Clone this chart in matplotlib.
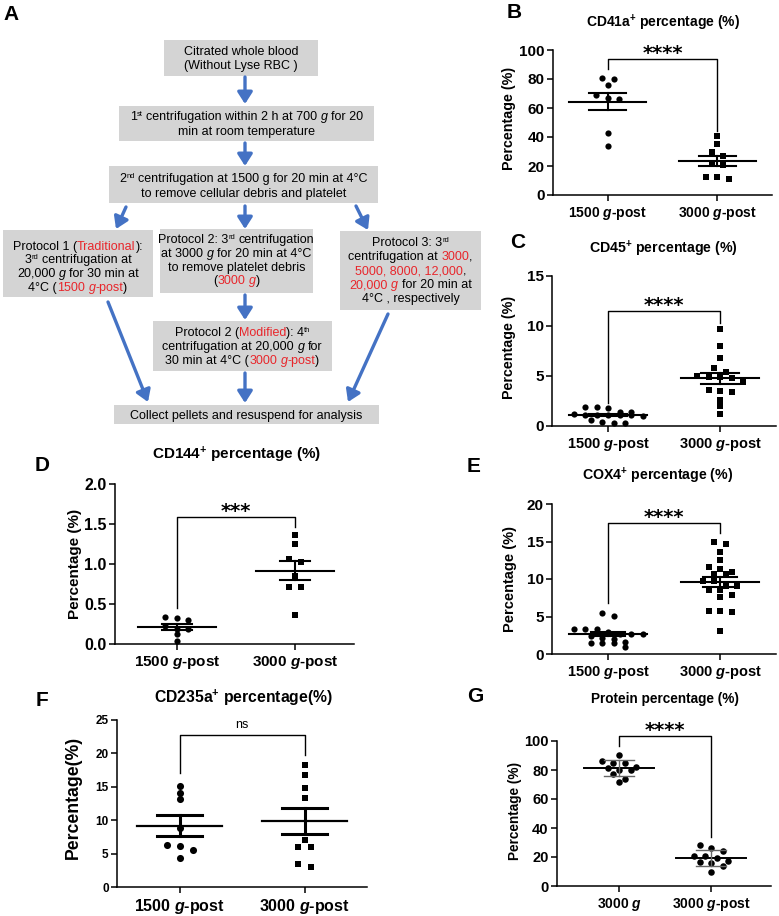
import numpy as np
import matplotlib
matplotlib.use('Agg')
import matplotlib.pyplot as plt
from matplotlib.patches import Rectangle

plt.rcParams['font.family'] = ['Liberation Sans', 'DejaVu Sans']
plt.rcParams['font.weight'] = 'bold'
plt.rcParams['mathtext.fontset'] = 'custom'
plt.rcParams['mathtext.rm'] = 'Liberation Sans:bold'
plt.rcParams['mathtext.it'] = 'Liberation Sans:bold:italic'
plt.rcParams['mathtext.bf'] = 'Liberation Sans:bold'

# ---- data (percent) ----
cd41a_1500 = [80, 81, 76, 67, 69, 66, 43, 33.5]
cd41a_3000 = [41, 35, 29.6, 26.6, 21.3, 20.4, 11, 12.4, 12.4]
cd45_1500 = [1.9, 1.0, 1.4, 1.1, 0.3, 1.4, 1.2, 0.6, 1.8, 1.1, 0.3, 1.1, 0.4, 1.1, 1.9, 1.1]
cd45_3000 = [9.7, 8.0, 6.8, 5.8, 5.4, 5.0, 4.9, 4.9, 4.8, 4.4, 3.4, 3.6, 3.5, 2.6, 2.0, 1.2]
cd144_1500 = [0.30, 0.34, 0.32, 0.19, 0.22, 0.19, 0.12, 0.04]
cd144_3000 = [1.36, 1.25, 1.03, 1.06, 0.85, 0.71, 0.71, 0.36]
cox4_1500 = [5.1, 5.5, 2.7, 3.3, 2.7, 3.3, 2.7, 3.0, 3.4, 2.2, 1.5, 1.6, 1.5, 1.5, 1.0, 2.0, 2.4]
cox4_3000 = [15.0, 14.7, 13.6, 12.5, 11.6, 11.3, 10.7, 10.9, 10.7, 9.8, 9.8, 9.1, 8.5, 8.5,
             9.1, 7.6, 7.9, 5.8, 5.6, 5.7, 3.05]
cd235a_1500 = [15.1, 14.1, 13.2, 8.85, 6.35, 6.1, 5.5, 4.35]
cd235a_3000 = [18.25, 16.7, 14.85, 13.25, 7.1, 5.95, 5.95, 3.5, 3.0]
protein_3000 = [90.5, 85, 85, 86, 80, 80, 81.5, 82, 77, 72, 74]
protein_3000_post = [28, 26, 24, 21, 21, 17.5, 19, 16.5, 16, 14, 10]

cats = ['1500 $g$-post', '3000 $g$-post']
cats_g = ['3000 $g$', '3000 $g$-post']

W, H = 779, 916
RED = '#e8262b'
BLUE = '#4472c4'
GREY = '#d4d4d4'

fig = plt.figure(figsize=(W / 100, H / 100), dpi=100)


def ftext(x, y, s, **kw):
    fig.text(x / W, 1 - y / H, s, **kw)


# ---------------- panel A: flowchart ----------------
fa = fig.add_axes([0, 0, 1, 1])
fa.set_xlim(0, W)
fa.set_ylim(H, 0)
fa.axis('off')
rend = fig.canvas.get_renderer()


def adv(s, size, style):
    # advance width of a string, spaces included
    t = fa.text(0, 0, 'X' + s + 'X', fontsize=size, style=style, fontweight='normal')
    u = fa.text(0, 0, 'XX', fontsize=size, style=style, fontweight='normal')
    w = t.get_window_extent(rend).width - u.get_window_extent(rend).width
    t.remove()
    u.remove()
    return w


def rich_line(cx, y, segs, fs=9):
    parts = []
    for s, k in segs:
        size = fs * 0.6 if 's' in k else fs
        style = 'italic' if 'i' in k else 'normal'
        parts.append((s, k, size, style, adv(s, size, style)))
    x = cx - sum(p[4] for p in parts) / 2
    for s, k, size, style, w in parts:
        lead = s[:len(s) - len(s.lstrip())]
        x0 = x + (adv(lead, size, style) if lead else 0)
        fa.text(x0, y - (4 if 's' in k else 0), s.strip(), fontsize=size, style=style,
                fontweight='normal', color=RED if 'r' in k else 'black',
                ha='left', va='baseline')
        x += w


boxes = [
    ((164, 40, 318, 76), [51, 65],
     [[('Citrated whole blood', '')], [('(Without Lyse RBC )', '')]]),
    ((119, 106, 374, 141), [116, 131],
     [[('1', ''), ('st', 's'), (' centrifugation within 2 h at 700 ', ''), ('g', 'i'), (' for 20', '')],
      [('min at room temperature', '')]]),
    ((109, 166, 378, 203), [178, 193],
     [[('2', ''), ('nd', 's'), (' centrifugation at 1500 g for 20 min at 4°C', '')],
      [('to remove cellular debris and platelet', '')]]),
    ((3, 230, 153, 297), [246, 259, 273, 287],
     [[('Protocol 1 (', ''), ('Traditional', 'r'), ('):', '')],
      [('3', ''), ('rd', 's'), (' centrifugation at', '')],
      [('20,000 ', ''), ('g', 'i'), (' for 30 min at', '')],
      [('4°C (', ''), ('1500 ', 'r'), ('g', 'ri'), ('-post', 'r'), (')', '')]]),
    ((160, 229, 313, 293), [239, 253, 267, 280],
     [[('Protocol 2: 3', ''), ('rd', 's'), (' centrifugation', '')],
      [('at 3000 ', ''), ('g', 'i'), (' for 20 min at 4°C', '')],
      [('to remove platelet debris', '')],
      [('(', ''), ('3000 ', 'r'), ('g', 'ri'), (')', '')]]),
    ((340, 231, 481, 310), [242, 256, 270, 284, 298],
     [[('Protocol 3: 3', ''), ('rd', 's')],
      [('centrifugation at ', ''), ('3000', 'r'), (',', '')],
      [('5000, 8000, 12,000', 'r'), (',', '')],
      [('20,000 ', 'r'), ('g', 'ri'), (' for 20 min at', '')],
      [('4°C , respectively', '')]]),
    ((153, 321, 332, 371), [332, 346, 360],
     [[('Protocol 2 (', ''), ('Modified', 'r'), ('): 4', ''), ('th', 's')],
      [('centrifugation at 20,000 ', ''), ('g', 'i'), (' for', '')],
      [('30 min at 4°C (', ''), ('3000 ', 'r'), ('g', 'ri'), ('-post', 'r'), (')', '')]]),
    ((114, 405, 379, 424), [415],
     [[('Collect pellets and resuspend for analysis', '')]]),
]

for (x0, y0, x1, y1), ys, lines in boxes:
    fa.add_patch(Rectangle((x0, y0), x1 - x0, y1 - y0, facecolor=GREY, edgecolor='none'))
    for yy, segs in zip(ys, lines):
        rich_line((x0 + x1) / 2, yy + 4, segs)

arrows = [((245, 77), (245, 104)), ((245, 143), (245, 166)),
          ((126, 207), (116, 229)), ((245, 206), (245, 229)), ((356, 206), (368, 230)),
          ((245, 295), (245, 320)), ((245, 373), (245, 403)),
          ((108, 302), (148, 402)), ((388, 314), (348, 402))]
for (xs0, ys0), (xs1, ys1) in arrows:
    fa.annotate('', xy=(xs1, ys1), xytext=(xs0, ys0),
                arrowprops=dict(arrowstyle='-|>,head_length=0.5,head_width=0.32', color=BLUE,
                                lw=2.4, shrinkA=0, shrinkB=0, mutation_scale=14))

ftext(11, 14, 'A', fontsize=15, ha='center', va='center')


# ---------------- scatter panels ----------------
def make_ax(x0, y0, x1, y1, xlim, ylim, yticks, fmt=None, tfs=11, xfs=10.5, labels=cats):
    ax = fig.add_axes([x0 / W, 1 - y1 / H, (x1 - x0) / W, (y1 - y0) / H])
    ax.set_xlim(*xlim)
    ax.set_ylim(*ylim)
    ax.set_yticks(yticks)
    if fmt:
        ax.set_yticklabels([fmt % t for t in yticks])
    ax.set_xticks([0, 1])
    ax.set_xticklabels(labels)
    ax.spines[['top', 'right']].set_visible(False)
    ax.spines[['left', 'bottom']].set_linewidth(1.1)
    ax.tick_params(axis='y', length=4, width=1.1, labelsize=tfs, pad=2)
    ax.tick_params(axis='x', length=4, width=1.1, labelsize=xfs, pad=3)
    ax.patch.set_alpha(0)
    return ax


def swarm(ax, vals, pos, step=11.5, gap=6.0):
    bb = ax.get_position()
    xl, yl = ax.get_xlim(), ax.get_ylim()
    px_x = bb.width * W / (xl[1] - xl[0])
    px_y = bb.height * H / (yl[1] - yl[0])
    v = np.sort(np.asarray(vals, float))[::-1]
    rows, cur = [], [v[0]]
    for a in v[1:]:
        if (cur[0] - a) * px_y < gap:
            cur.append(a)
        else:
            rows.append(cur)
            cur = [a]
    rows.append(cur)
    xs, ys = [], []
    for row in rows:
        k = len(row)
        xs.extend(pos + (np.arange(k) - (k - 1) / 2) * step / px_x)
        ys.extend(row)
    return np.array(xs), np.array(ys)


def dots(ax, vals, pos, marker, ms=None, step=11.5):
    if ms is None:
        ms = 20 if marker == 'o' else 16
    xs, ys = swarm(ax, vals, pos, step=step)
    ax.scatter(xs, ys, s=ms, marker=marker, color='black', linewidths=0, zorder=3, clip_on=False)


def mean_err(ax, vals, pos, kind='sem', half=0.35, cap=0.17, lw=1.5, elw=1.5, ecolor='black'):
    v = np.asarray(vals, float)
    m = v.mean()
    e = v.std(ddof=1)
    if kind == 'sem':
        e = e / np.sqrt(len(v))
    ax.plot([pos - half, pos + half], [m, m], color='black', lw=lw, zorder=4)
    ax.plot([pos, pos], [m - e, m + e], color=ecolor, lw=elw, zorder=4)
    for yy in (m - e, m + e):
        ax.plot([pos - cap, pos + cap], [yy, yy], color=ecolor, lw=elw, zorder=4)


def bracket(ax, top, yl, yr, label, fs=14, weight='bold', dy=-3, family='DejaVu Sans'):
    ax.plot([0, 0, 1, 1], [yl, top, top, yr], color='black', lw=1.0, clip_on=False)
    ax.annotate(label, xy=(0.5, top), xytext=(0, dy), textcoords='offset points',
                ha='center', va='bottom', fontsize=fs, fontweight=weight, family=family,
                annotation_clip=False)


# B
axb = make_ax(553, 50, 772, 195, (-0.5, 1.5), (0, 100), [0, 20, 40, 60, 80, 100], xfs=10)
dots(axb, cd41a_1500, 0, 'o')
dots(axb, cd41a_3000, 1, 's')
mean_err(axb, cd41a_1500, 0)
mean_err(axb, cd41a_3000, 1)
bracket(axb, 93.8, 87, 44, '****')
ftext(663, 23, 'CD41a$^{+}$ percentage (%)', fontsize=10, ha='center', va='center')
ftext(509, 118, 'Percentage (%)', fontsize=10.3, rotation=90, ha='center', va='center')
ftext(514, 12, 'B', fontsize=15, ha='center', va='center')

# C
axc = make_ax(552, 276, 776, 426, (-0.5, 1.5), (0, 15), [0, 5, 10, 15])
dots(axc, cd45_1500, 0, 'o')
dots(axc, cd45_3000, 1, 's')
mean_err(axc, cd45_1500, 0)
mean_err(axc, cd45_3000, 1)
bracket(axc, 11.5, 2.3, 10.3, '****')
ftext(663, 249, 'CD45$^{+}$ percentage (%)', fontsize=10.2, ha='center', va='center')
ftext(509, 347, 'Percentage (%)', fontsize=10.3, rotation=90, ha='center', va='center')
ftext(518, 243, 'C', fontsize=15, ha='center', va='center')

# D
axd = make_ax(115, 484, 354, 644, (-0.525, 1.5), (0, 2.0), [0, 0.5, 1.0, 1.5, 2.0], fmt='%.1f',
              tfs=11.5, xfs=11)
dots(axd, cd144_1500, 0, 'o')
dots(axd, cd144_3000, 1, 's')
mean_err(axd, cd144_1500, 0, half=0.33, cap=0.13)
mean_err(axd, cd144_3000, 1, half=0.33, cap=0.13)
bracket(axd, 1.59, 0.45, 1.46, '***')
ftext(237, 455, 'CD144$^{+}$ percentage (%)', fontsize=11, ha='center', va='center')
ftext(75, 564, 'Percentage (%)', fontsize=11, rotation=90, ha='center', va='center')
ftext(42, 465, 'D', fontsize=15, ha='center', va='center')

# E
axe = make_ax(552, 504, 776, 654, (-0.5, 1.5), (0, 20), [0, 5, 10, 15, 20])
dots(axe, cox4_1500, 0, 'o')
dots(axe, cox4_3000, 1, 's')
mean_err(axe, cox4_1500, 0, cap=0.15)
mean_err(axe, cox4_3000, 1, cap=0.15)
bracket(axe, 17.5, 6.8, 16.2, '****')
ftext(658, 476, 'COX4$^{+}$ percentage (%)', fontsize=10.2, ha='center', va='center')
ftext(510, 579, 'Percentage (%)', fontsize=10.5, rotation=90, ha='center', va='center')
ftext(474, 466, 'E', fontsize=15, ha='center', va='center')

# F
axf = make_ax(117, 720, 367, 887, (-0.5, 1.5), (0, 25), [0, 5, 10, 15, 20, 25], tfs=8.5, xfs=11.5)
dots(axf, cd235a_1500, 0, 'o', ms=26, step=13)
dots(axf, cd235a_3000, 1, 's', ms=21, step=13)
mean_err(axf, cd235a_1500, 0, half=0.34, cap=0.18, lw=1.6, elw=2.2)
mean_err(axf, cd235a_3000, 1, half=0.34, cap=0.18, lw=1.6, elw=2.2)
bracket(axf, 22.8, 17, 19.7, 'ns', fs=9, weight='normal', dy=3, family='Liberation Sans')
ftext(243, 698, 'CD235a$^{+}$ percentage(%)', fontsize=11.3, ha='center', va='center')
ftext(73, 797, 'Percentage(%)', fontsize=12.7, rotation=90, ha='center', va='center')
ftext(42, 701, 'F', fontsize=15, ha='center', va='center')

# G
axg = make_ax(557, 741, 771, 886, (-0.674, 1.652), (0, 100), [0, 20, 40, 60, 80, 100],
              tfs=10.5, xfs=10, labels=cats_g)
dots(axg, protein_3000, 0, 'o', ms=22)
dots(axg, protein_3000_post, 1, 'o', ms=22)
mean_err(axg, protein_3000, 0, kind='sd', half=0.38, cap=0.16, lw=1.4, elw=1.0, ecolor='#666666')
mean_err(axg, protein_3000_post, 1, kind='sd', half=0.38, cap=0.16, lw=1.4, elw=1.0, ecolor='#666666')
bracket(axg, 103.5, 96.5, 33.5, '****')
ftext(665, 699, 'Protein percentage (%)', fontsize=9.8, ha='center', va='center')
ftext(515, 811, 'Percentage (%)', fontsize=9.8, rotation=90, ha='center', va='center')
ftext(475, 697, 'G', fontsize=15, ha='center', va='center')

fig.savefig('out.png', dpi=100)
